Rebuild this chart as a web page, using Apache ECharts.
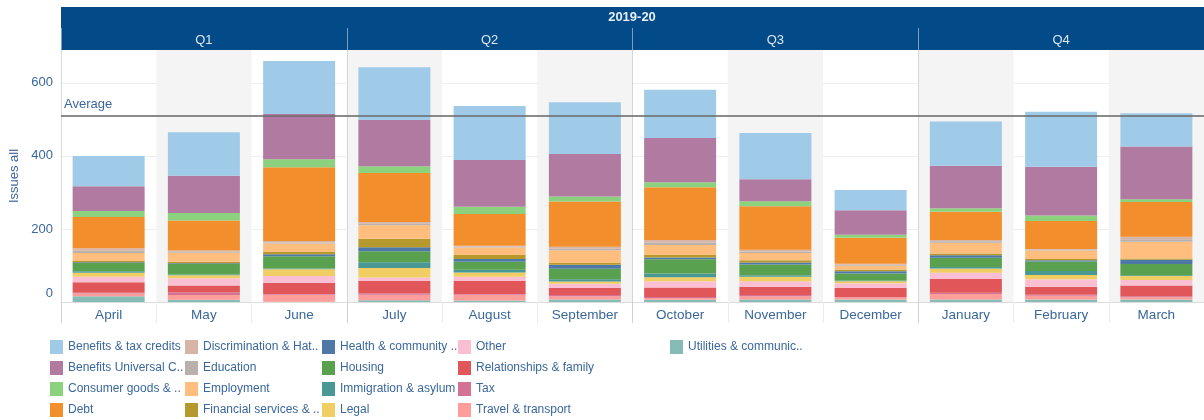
<!DOCTYPE html>
<html>
<head>
<meta charset="utf-8">
<script src="https://cdn.jsdelivr.net/npm/echarts@6/dist/echarts.min.js"></script>
<style>html,body{margin:0;padding:0;background:#fff}#c{width:1204px;height:420px}</style>
</head>
<body>
<div id="c"></div>
<script>
// ---- data ----
const yearLabel = '2019-20';
const quarters = ['Q1', 'Q2', 'Q3', 'Q4'];
const months = ['April','May','June','July','August','September','October','November','December','January','February','March'];
const yAxisName = 'Issues all';

const benefitsTax    = [83,119,145,145,148,142,132,127,56,121,151,91];
const benefitsUC     = [68,102,124,126,128,116,121,60,67,116,133,145];
const consumerGoods  = [16,21,22,19,20,14,14,14,8,10,15,7];
const debt           = [86,82,202,134,87,124,144,119,71,77,77,95];
const discrimination = [7,3,4,5,3,5,8,5,3,4,2,7];
const education      = [6,3,3,4,2,4,6,4,3,4,2,7];
const employment     = [22,25,23,37,20,35,27,20,10,29,23,46];
const financial      = [3,4,6,23,11,5,7,6,5,5,4,3];
const health         = [2,2,6,11,8,11,5,5,6,7,3,12];
const housing        = [23,29,33,30,22,29,39,30,19,25,26,31];
const immigration    = [4,2,2,16,7,6,10,4,2,4,11,2];
const legal          = [11,8,19,26,12,6,11,12,6,12,12,11];
const other          = [15,20,18,9,11,12,17,15,13,17,20,15];
const relationships  = [29,19,31,35,36,19,26,23,25,38,22,29];
const tax            = [2,7,2,3,2,3,3,3,1,3,3,3];
const travel         = [7,13,19,15,16,9,5,9,5,15,10,6];
const utilities      = [16,6,1,5,4,7,6,7,7,7,7,7];

// legend order (top of stack first)
const seriesNames = ['Benefits & tax credits','Benefits Universal C..','Consumer goods & ..','Debt',
  'Discrimination & Hat..','Education','Employment','Financial services & ..',
  'Health & community ..','Housing','Immigration & asylum','Legal',
  'Other','Relationships & family','Tax','Travel & transport','Utilities & communic..'];
const seriesData = [benefitsTax, benefitsUC, consumerGoods, debt, discrimination, education, employment, financial,
  health, housing, immigration, legal, other, relationships, tax, travel, utilities];
const seriesColors = ['#A0CBE8','#B07AA1','#8CD17D','#F28E2B','#D7B5A6','#BAB0AC','#FFBE7D','#B6992D',
  '#4E79A7','#59A14F','#499894','#F1CE63','#FABFD2','#E15759','#D37295','#FF9D9A','#86BCB6'];

// ---- chart ----
const FONT = "'Liberation Sans', Arial, sans-serif";
const BLUE = '#3a679c';
const totals = months.map((_, i) => seriesData.reduce((s, arr) => s + arr[i], 0));
const average = totals.reduce((a, b) => a + b, 0) / totals.length;

const series = [];
for (let k = seriesNames.length - 1; k >= 0; k--) {
  series.push({
    name: seriesNames[k],
    type: 'bar',
    stack: 'all',
    xAxisIndex: 0,
    barWidth: 72,
    data: seriesData[k],
    itemStyle: { color: seriesColors[k] },
    emphasis: { disabled: true },
    silent: true
  });
}
series[series.length - 1].markLine = {
  silent: true,
  symbol: 'none',
  animation: false,
  lineStyle: { color: 'rgba(110,110,110,0.8)', width: 2, type: 'solid' },
  label: { show: true, position: 'insideStartTop', formatter: 'Average', color: BLUE, fontSize: 13, fontFamily: FONT, distance: [3, 4] },
  data: [{ yAxis: average }]
};

const legendLeft = [50, 185, 322, 458, 670];
const legends = [];
for (let c = 0; c < 5; c++) {
  legends.push({
    orient: 'vertical', left: legendLeft[c], top: 340, padding: 0,
    itemWidth: 13, itemHeight: 14, itemGap: 7, icon: 'rect', selectedMode: false,
    data: seriesNames.slice(c * 4, c * 4 + 4),
    textStyle: { fontSize: 12, color: BLUE, fontFamily: FONT }
  });
}

const option = {
  animation: false,
  textStyle: { fontFamily: FONT },
  title: {
    text: yearLabel, left: 632, top: 11, textAlign: 'center', padding: 0,
    textStyle: { color: '#e8eef5', fontSize: 13, fontWeight: 'bold', fontFamily: FONT }
  },
  graphic: [{
    type: 'rect', left: 61, top: 7, z: -1,
    shape: { width: 1143, height: 43 },
    style: { fill: '#024b88' }
  }],
  legend: legends,
  grid: { left: 61, right: 0, top: 50, bottom: 118, containLabel: false, outerBoundsMode: 'none' },
  xAxis: [
    {
      type: 'category', data: months, position: 'bottom',
      axisLine: { show: true, lineStyle: { color: '#dcdcdc' } },
      axisTick: { show: true, length: 21, interval: 0, lineStyle: { color: '#ececec' } },
      axisLabel: { color: BLUE, fontSize: 13.5, margin: 6, interval: 0, fontFamily: FONT },
      splitArea: { show: true, interval: 0, areaStyle: { color: ['rgba(255,255,255,0)', '#f4f4f4'] } },
      splitLine: { show: false }
    },
    {
      type: 'category', data: quarters, position: 'top',
      axisLine: { show: false },
      axisTick: { show: true, length: 22, interval: 0, lineStyle: { color: '#7d9cc2' } },
      axisLabel: { color: '#dfe7f0', fontSize: 13, margin: 3, interval: 0, fontFamily: FONT },
      splitLine: { show: false }
    },
    {
      type: 'category', data: quarters, position: 'bottom',
      axisLine: { show: false },
      axisTick: { show: true, length: 21, interval: 0, lineStyle: { color: '#d0d0d0' } },
      axisLabel: { show: false },
      splitLine: { show: true, interval: 0, lineStyle: { color: '#d6d6d6' } }
    }
  ],
  yAxis: {
    type: 'value', min: 0, max: 690, interval: 200,
    name: yAxisName, nameLocation: 'middle', nameGap: 40, nameRotate: 90, nameMoveOverlap: false,
    nameTextStyle: { color: BLUE, fontSize: 13, fontFamily: FONT },
    axisLine: { show: true, lineStyle: { color: '#d9d9d9' } },
    axisTick: { show: false },
    axisLabel: {
      color: BLUE, fontSize: 13, margin: 8, fontFamily: FONT, showMaxLabel: false,
      formatter: v => v === 0 ? '{z|0}' : String(v),
      rich: { z: { color: BLUE, fontSize: 13, fontFamily: FONT, padding: [0, 0, 18, 0] } }
    },
    splitLine: { show: true, showMaxLine: false, lineStyle: { color: '#efefef' } }
  },
  series: series
};

const chart = echarts.init(document.getElementById('c'), null, { renderer: 'canvas' });
chart.setOption(option);
</script>
</body>
</html>
